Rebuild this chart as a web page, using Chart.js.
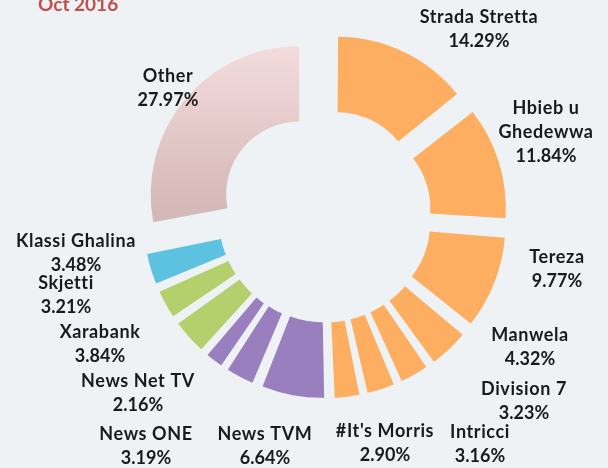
<!DOCTYPE html>
<html>
<head>
<meta charset="utf-8">
<script src="https://cdn.jsdelivr.net/npm/chart.js@4/dist/chart.umd.min.js"></script>
<style>
  html, body { margin: 0; padding: 0; background: #eef2f5; }
  #wrap { width: 608px; height: 468px; position: relative; }
</style>
</head>
<body>
<div id="wrap"><canvas id="c" width="608" height="468"></canvas></div>
<script>
// ---- data ----
const titleText = 'Oct 2016';
const categories = ['Strada Stretta', 'Hbieb u Ghedewwa', 'Tereza', 'Manwela', 'Division 7',
  'Intricci', "#It's Morris", 'News TVM', 'News ONE', 'News Net TV', 'Xarabank',
  'Skjetti', 'Klassi Ghalina', 'Other'];
const shares = [14.29, 11.84, 9.77, 4.32, 3.23, 3.16, 2.90, 6.64, 3.19, 2.16, 3.84, 3.21, 3.48, 27.97];
const groups = ['tvm', 'tvm', 'tvm', 'tvm', 'tvm', 'tvm', 'tvm', 'news', 'news', 'news', 'one', 'one', 'other1', 'rest'];

// ---- styles ----
const groupColors = { tvm: '#fdae60', news: '#9a7fbf', one: '#b3d06c', other1: '#5cc2df' };
const labelLines = { 'Hbieb u Ghedewwa': ['Hbieb u', 'Ghedewwa'] };
// label anchor (centre of the first text line), layout only
const labelPos = [
  [479, 17], [546, 108], [557, 257], [530, 335], [524, 389], [480, 432], [385, 431],
  [265, 434], [146, 434], [138, 381], [100, 332], [66, 283], [76, 241], [168, 76]
];
const explodePx = 34; // uniform outward shift of every slice

// Chart.js shifts an arc by offset/4 * (2 - sin(circumference)); invert that so every slice moves explodePx
function sliceOffset(c) {
  const total = shares.reduce((a, b) => a + b, 0);
  const circ = Math.min(Math.PI, 2 * Math.PI * shares[c.dataIndex] / total);
  return 4 * explodePx / (2 - Math.sin(circ));
}

const labelPlugin = {
  id: 'sliceLabels',
  afterDatasetsDraw(chart) {
    const ctx = chart.ctx;
    ctx.save();
    ctx.font = 'bold 18px Lato, "Open Sans", sans-serif';
    ctx.fillStyle = '#1a1a1a';
    ctx.textAlign = 'center';
    ctx.textBaseline = 'middle';
    categories.forEach((name, i) => {
      const names = labelLines[name] || [name];
      const lines = names.concat([shares[i].toFixed(2) + '%']);
      const [x, y] = labelPos[i];
      lines.forEach((t, k) => {
        ctx.letterSpacing = k < names.length ? '0.6px' : '0px';
        ctx.fillText(t, x, y + k * 24);
      });
    });
    ctx.letterSpacing = '0px';
    ctx.font = 'bold 19px Lato, "Open Sans", sans-serif';
    ctx.fillStyle = '#c0504d';
    ctx.textAlign = 'left';
    ctx.textBaseline = 'alphabetic';
    ctx.fillText(titleText, 38, 11);
    ctx.restore();
  }
};

function sliceColor(c) {
  const g = groups[c.dataIndex];
  if (g === 'rest') {
    const area = c.chart.chartArea;
    if (!area) return '#ecd0d0';
    const grad = c.chart.ctx.createLinearGradient(0, 45, 0, 235);
    grad.addColorStop(0, '#f9e1e1');
    grad.addColorStop(1, '#d4b7b7');
    return grad;
  }
  return groupColors[g];
}

new Chart(document.getElementById('c'), {
  type: 'doughnut',
  data: {
    labels: categories,
    datasets: [{
      data: shares,
      backgroundColor: sliceColor,
      borderWidth: 0,
      offset: sliceOffset
    }]
  },
  options: {
    responsive: false,
    animation: false,
    events: [],
    radius: 148,
    cutout: '49%',
    layout: { padding: { top: 0, bottom: 36, left: 42, right: 0 } },
    plugins: {
      legend: { display: false },
      tooltip: { enabled: false },
      title: { display: false }
    }
  },
  plugins: [labelPlugin]
});
</script>
</body>
</html>
